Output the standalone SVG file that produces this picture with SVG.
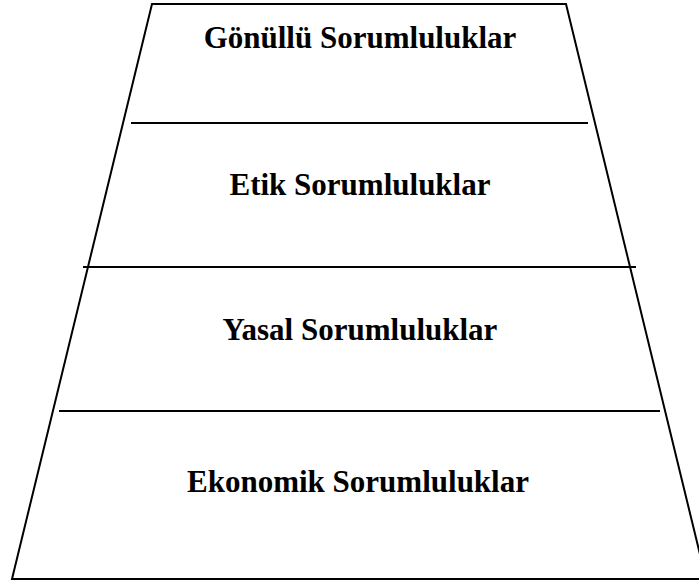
<svg xmlns="http://www.w3.org/2000/svg" width="699" height="583" viewBox="0 0 699 583">
<style>
.ln{stroke:#000;stroke-width:2;fill:none}
.t{font-family:"Liberation Serif","Times New Roman",serif;font-weight:bold;font-size:31px;text-anchor:middle;fill:#000}
</style>
<rect width="699" height="583" fill="#fff"/>
<g id="pyramid">
<path class="ln" d="M152,4 L566,4 L706,579 L12,579 Z"/>
</g>
<g id="connectors">
<line class="ln" x1="131" y1="123" x2="588" y2="123"/>
<line class="ln" x1="83" y1="267" x2="636" y2="267"/>
<line class="ln" x1="59" y1="411" x2="660" y2="411"/>
</g>
<g id="gonullu"><text class="t" x="360" y="48">Gönüllü Sorumluluklar</text></g>
<g id="etik"><text class="t" x="360" y="195">Etik Sorumluluklar</text></g>
<g id="yasal"><text class="t" x="360" y="340">Yasal Sorumluluklar</text></g>
<g id="ekonomik"><text class="t" x="358" y="492">Ekonomik Sorumluluklar</text></g>
</svg>
